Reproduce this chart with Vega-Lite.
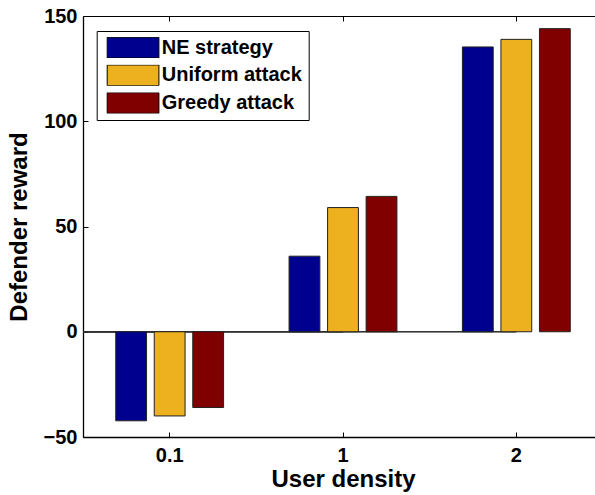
{
  "$schema": "https://vega.github.io/schema/vega-lite/v6.json",
  "width": 512,
  "height": 421,
  "autosize": {"type": "none"},
  "padding": {"left": 83, "top": 16, "right": 0, "bottom": 58},
  "config": {
    "font": "Liberation Sans",
    "view": {"stroke": null},
    "axis": {
      "labelFont": "Liberation Sans",
      "labelFontSize": 20,
      "labelFontWeight": "bold",
      "labelColor": "black",
      "titleFont": "Liberation Sans",
      "titleFontSize": 24,
      "titleFontWeight": "bold",
      "titleColor": "black",
      "domainColor": "black",
      "tickColor": "black",
      "tickSize": -5,
      "tickWidth": 1,
      "grid": false
    }
  },
  "data": {
    "values": [
      {"density": "0.1", "strategy": "NE strategy", "reward": -42.3},
      {"density": "0.1", "strategy": "Uniform attack", "reward": -40.0},
      {"density": "0.1", "strategy": "Greedy attack", "reward": -36.0},
      {"density": "1", "strategy": "NE strategy", "reward": 35.9},
      {"density": "1", "strategy": "Uniform attack", "reward": 59.0},
      {"density": "1", "strategy": "Greedy attack", "reward": 64.3},
      {"density": "2", "strategy": "NE strategy", "reward": 135.3},
      {"density": "2", "strategy": "Uniform attack", "reward": 138.9},
      {"density": "2", "strategy": "Greedy attack", "reward": 144.0}
    ]
  },
  "layer": [
    {
      "mark": {"type": "rule", "orient": "horizontal", "color": "#333333", "strokeWidth": 1},
      "encoding": {
        "x": {
          "field": "density",
          "type": "nominal",
          "sort": ["0.1", "1", "2"],
          "scale": {"range": [0, 520], "paddingInner": 0, "paddingOuter": 0},
          "axis": {"orient": "top", "labels": false, "title": null, "domainWidth": 1}
        },
        "y": {"datum": 0, "axis": null}
      }
    },
    {
      "mark": {"type": "bar", "stroke": "#222222", "strokeWidth": 1},
      "encoding": {
        "x": {
          "field": "density",
          "type": "nominal",
          "sort": ["0.1", "1", "2"],
          "scale": {"range": [0, 520], "paddingInner": 0, "paddingOuter": 0},
          "axis": {"orient": "bottom", "title": "User density", "labelAngle": 0, "labelPadding": 13, "titlePadding": 2, "domainWidth": 1.6}
        },
        "xOffset": {
          "field": "strategy",
          "sort": ["NE strategy", "Uniform attack", "Greedy attack"],
          "scale": {"paddingInner": 0.2, "paddingOuter": 0.85}
        },
        "y": {
          "field": "reward",
          "type": "quantitative",
          "scale": {"domain": [-50, 150], "nice": false, "zero": false},
          "axis": {"orient": "left", "title": "Defender reward", "values": [-50, 0, 50, 100, 150], "labelPadding": 11, "titlePadding": 12, "domainWidth": 1.3}
        },
        "color": {
          "field": "strategy",
          "type": "nominal",
          "sort": ["NE strategy", "Uniform attack", "Greedy attack"],
          "scale": {"domain": ["NE strategy", "Uniform attack", "Greedy attack"], "range": ["#00008F", "#EDB120", "#800000"]},
          "legend": {
            "title": null,
            "orient": "none",
            "legendX": 13.7,
            "legendY": 15,
            "padding": 6.1,
            "strokeColor": "black",
            "fillColor": "white",
            "symbolType": "M-2.5,-1H2.5V1H-2.5Z",
            "symbolSize": 428,
            "symbolOffset": 19.25,
            "symbolOpacity": 1,
            "symbolStrokeColor": "black",
            "symbolStrokeWidth": 1,
            "labelOffset": 17.7,
            "clipHeight": 21,
            "rowPadding": 6.7,
            "labelFont": "Liberation Sans",
            "labelFontSize": 20,
            "labelFontWeight": "bold",
            "labelColor": "black",
            "labelLimit": 300
          }
        }
      }
    }
  ],
  "resolve": {"axis": {"x": "independent", "y": "independent"}}
}
